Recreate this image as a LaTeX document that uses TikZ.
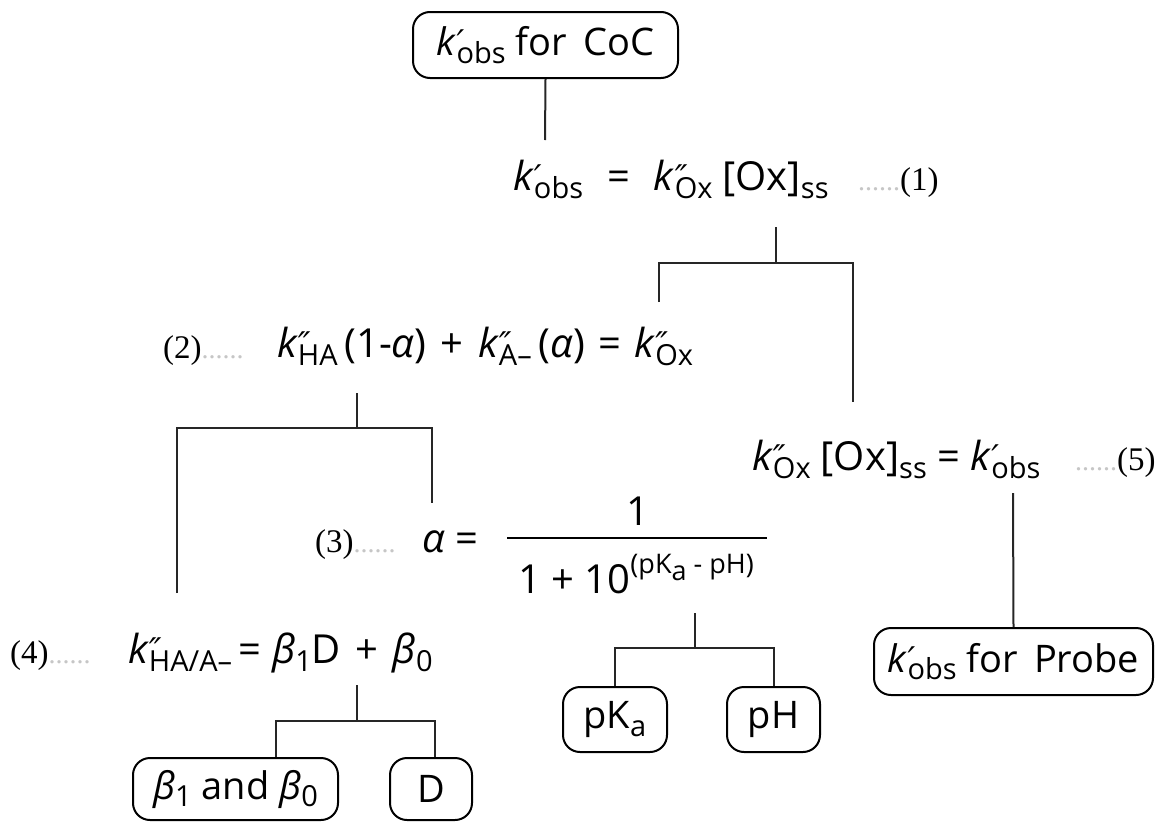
\documentclass[tikz,border=0pt]{standalone}
\usepackage{fontspec}
\setmainfont{Open Sans}
\newfontfamily\tagfont{Liberation Serif}
\newfontfamily\primefont{DejaVu Sans}
\usetikzlibrary{calc}

\newcommand{\eqsize}{\fontsize{40}{48}\selectfont}
\newcommand{\boxsize}{\fontsize{38}{46}\selectfont}
\newcommand{\tagsize}{\tagfont\fontsize{33}{40}\selectfont}
\newcommand{\lo}[1]{\raisebox{-0.2em}{\fontsize{29}{32}\selectfont #1}}
\newcommand{\hi}[1]{\raisebox{0.48em}{\fontsize{27}{30}\selectfont #1}}
\newcommand{\kk}[2]{\textit{k}\rlap{\raisebox{0.02em}{\primefont\itshape\fontsize{34}{34}\selectfont #1}}\lo{#2}}
\newcommand{\dotrow}{{\color{gray!45}\fontsize{28}{30}\selectfont ......}}

\begin{document}
\begin{tikzpicture}[x=1pt,y=-1pt,
    box/.style={draw,line width=2pt,rounded corners=17pt,inner sep=0pt,font=\boxsize},
    eq/.style={anchor=base west,inner sep=0pt,font=\eqsize},
    tg/.style={anchor=base west,inner sep=0pt,font=\tagsize},
    ln/.style={line width=2pt,black!85}]

    \useasboundingbox (0,0) rectangle (1162,822);

    % boxes
    \node[box,minimum width=265pt,minimum height=66pt] (coc) at (545.5,45) {\kk{′}{obs} for\, CoC};
    \node[box,minimum width=279pt,minimum height=67pt] (probe) at (1013.5,661.5) {\kk{′}{obs} for\, Probe};
    \node[box,minimum width=104pt,minimum height=65pt] (pka) at (615,719.5) {pK\lo{a}};
    \node[box,minimum width=93pt,minimum height=65pt] (ph) at (773.5,719.5) {pH};
    \node[box,minimum width=205pt,minimum height=62pt] (beta) at (235.5,789) {\textit{β}\lo{1} and \textit{β}\lo{0}};
    \node[box,minimum width=82pt,minimum height=62pt] (d) at (431,789) {D};

    % equations
    \node[eq] (e1) at (513,190) {\kk{′}{obs}\hspace{24pt}=\hspace{24pt}\kk{″}{Ox}\hspace{10pt}[Ox]\lo{ss}};
    \node[eq] (e2) at (277,357) {\kk{″}{HA}\,(1-\textit{α})\hspace{4pt} + \hspace{4pt}\kk{″}{A–}\,(\textit{α})\hspace{3pt} = \hspace{3pt}\kk{″}{Ox}};
    \node[eq] (e3) at (422,552) {\textit{α} =};
    \node[inner sep=0pt,anchor=base,font=\eqsize] (num) at (638,525) {1};
    \node[eq] (den) at (518,593) {1 + 10\hi{(pK\raisebox{-0.25em}{a} - pH)}};
    \node[eq] (e4) at (128,663) {\kk{″}{HA/A–}\,= \textit{β}\lo{1}D\hspace{4pt} + \hspace{4pt}\textit{β}\lo{0}};
    \node[eq] (e5) at (752,470) {\kk{″}{Ox}\hspace{10pt}[Ox]\lo{ss} = \kk{′}{obs}};

    % tags
    \node[tg] (n1) at (858,190) {\dotrow(1)};
    \node[tg] (n2) at (163,358) {(2)\dotrow};
    \node[tg] (n3) at (315,552) {(3)\dotrow};
    \node[tg] (n4) at (10,663) {(4)\dotrow};
    \node[tg] (n5) at (1075,470) {\dotrow(5)};

    \coordinate (barL) at (507,538);
    \coordinate (barR) at (767,538);
    \draw[line width=2.2pt] (barL) -- (barR);

    \coordinate (a1) at (545,140);
    \coordinate (t1) at (776,227);
    \coordinate (j1) at (776,263);
    \coordinate (l1) at (659,302);
    \coordinate (r1) at (853,402);
    \coordinate (t2) at (357,393);
    \coordinate (j2) at (357,428);
    \coordinate (l2) at (177,593);
    \coordinate (r2) at (432,503);
    \coordinate (t3) at (695,613);
    \coordinate (j3) at (695,648);
    \coordinate (t4) at (357,685);
    \coordinate (j4) at (357,721);
    \coordinate (s5) at (1013,493);

    \draw[ln] (coc.south) -- (a1);
    \foreach \s in {1,2}
        {
            \draw[ln] (t\s) -- (j\s);
            \draw[ln] (l\s) |- (j\s) -| (r\s);
        }
    \draw[ln] (t3) -- (j3);
    \draw[ln] (pka.north) |- (j3) -| (ph.north);
    \draw[ln] (t4) -- (j4);
    \draw[ln] ([xshift=40pt]beta.north) |- (j4) -| ([xshift=4pt]d.north);
    \draw[ln] (s5) -- (probe.north);

\end{tikzpicture}
\end{document}
